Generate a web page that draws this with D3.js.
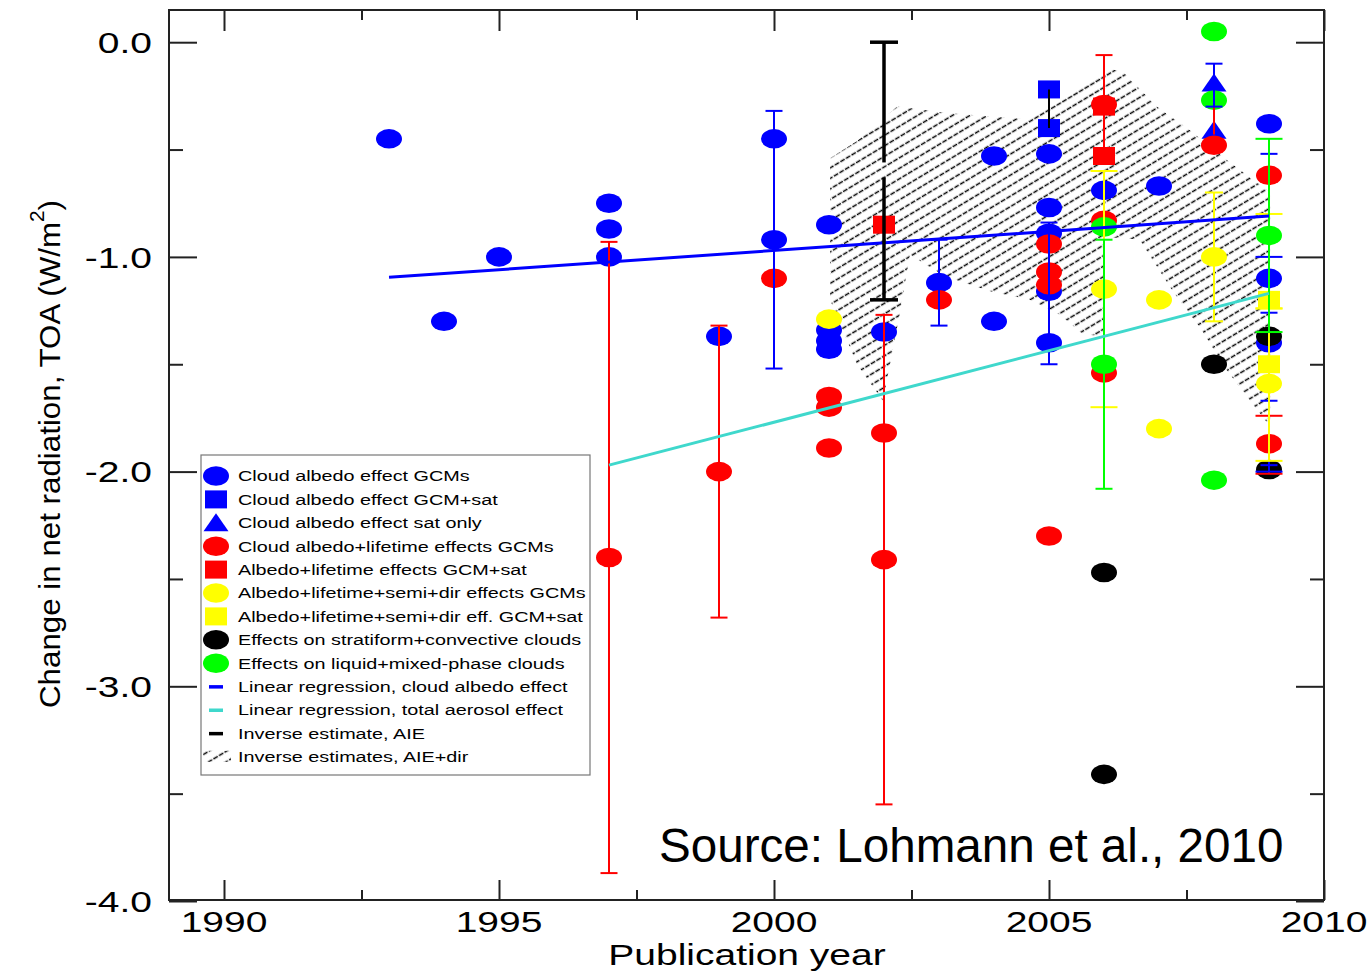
<!DOCTYPE html>
<html><head><meta charset="utf-8">
<script src="https://cdn.jsdelivr.net/npm/d3@7"></script>
<style>
body{margin:0;background:#fff;}
svg{display:block;}
text{font-family:"Liberation Sans",Arial,Helvetica,sans-serif;fill:#000;}
</style>
</head><body>
<svg id="chart" width="1369" height="973"></svg>
<script>
// ---------- data ----------
const xMajorTicks = [1990, 1995, 2000, 2005, 2010];
const xMinorTicks = [1992.5, 1997.5, 2002.5, 2007.5];
const yMajorTicks = [0, -1, -2, -3, -4];
const yMinorTicks = [-0.5, -1.5, -2.5, -3.5];
const yTickLabels = ["0.0", "-1.0", "-2.0", "-3.0", "-4.0"];
const xTickLabels = ["1990", "1995", "2000", "2005", "2010"];

const legendLabels = [
  "Cloud albedo effect GCMs",
  "Cloud albedo effect GCM+sat",
  "Cloud albedo effect sat only",
  "Cloud albedo+lifetime effects GCMs",
  "Albedo+lifetime effects GCM+sat",
  "Albedo+lifetime+semi+dir effects GCMs",
  "Albedo+lifetime+semi+dir eff. GCM+sat",
  "Effects on stratiform+convective clouds",
  "Effects on liquid+mixed-phase clouds",
  "Linear regression, cloud albedo effect",
  "Linear regression, total aerosol effect",
  "Inverse estimate, AIE",
  "Inverse estimates, AIE+dir"
];

// points: [publication year, W/m2]
const cloudAlbedoGCM = [[1993,-0.45],[1994,-1.30],[1995,-1.00],[1997,-0.75],[1997,-0.87],[1997,-1.00],
  [1999,-1.37],[2000,-0.45],[2000,-0.92],[2001,-0.85],[2001,-1.34],[2001,-1.39],[2001,-1.43],[2002,-1.35],
  [2003,-1.12],[2004,-0.53],[2004,-1.30],[2005,-0.52],[2005,-0.77],[2005,-0.89],[2005,-1.16],[2005,-1.40],
  [2006,-0.69],[2007,-0.67],[2009,-0.38],[2009,-1.10],[2009,-1.40]];
const cloudAlbedoGCMsat = [[2005,-0.22],[2005,-0.40]];
const cloudAlbedoSat = [[2008,-0.19],[2008,-0.41]];
const albedoLifetimeGCM = [[1997,-2.40],[1999,-2.00],[2000,-1.10],[2001,-1.65],[2001,-1.70],[2001,-1.89],
  [2002,-1.82],[2002,-2.41],[2003,-1.20],[2005,-0.94],[2005,-1.07],[2005,-1.13],[2005,-2.30],[2006,-0.29],
  [2006,-0.83],[2006,-1.54],[2008,-0.48],[2009,-0.62],[2009,-1.87]];
const albedoLifetimeGCMsat = [[2002,-0.85],[2006,-0.30],[2006,-0.53]];
const semiDirGCM = [[2001,-1.29],[2006,-1.15],[2007,-1.20],[2007,-1.80],[2008,-1.00],[2009,-1.59]];
const semiDirGCMsat = [[2009,-1.20],[2009,-1.50]];
const stratConv = [[2006,-2.47],[2006,-3.41],[2008,-1.50],[2009,-1.37],[2009,-1.99]];
const liquidMixed = [[2006,-0.86],[2006,-1.50],[2008,0.05],[2008,-0.27],[2008,-2.04],[2009,-0.90]];

// error bars: [year, upper, lower]
const redErr = [[1997,-0.93,-3.87],[1999,-1.32,-2.68],[2002,-1.27,-3.55],[2006,-0.06,-0.53]];
const redErrWide = [[2009,-1.74,-2.01]];
const redRange = [[2008,-0.20,-0.43]];
const blueErr = [[2000,-0.32,-1.52],[2003,-0.92,-1.32],[2005,-0.84,-1.50],[2008,-0.10,-0.30],[2009,-0.52,-1.26],[2009,-1.67,-1.97]];
const blueErrWide = [[2009,-1.00,-2.00]];
const yellowErr = [[2008,-0.70,-1.30]];
const yellowErrWide = [[2006,-0.60,-1.70],[2009,-0.80,-1.24],[2009,-1.24,-1.95]];
const greenErr = [[2006,-0.92,-2.08]];
const greenErrWide = [[2009,-0.45,-1.35]];
const blackRange = [[2005,-0.22,-0.40]];
const aieRange = [2002, 0.0, -1.20];
const aieGap = [-0.56, -0.63];

// regression lines
const regCloudAlbedo = [[1993,-1.095],[2009,-0.81]];
const regTotalAerosol = [[1997,-1.97],[2009,-1.17]];

// inverse estimates AIE+dir (hatched region outline)
const inverseAIEdir = [[2001.02,-0.54],[2001.51,-0.46],[2002.24,-0.30],[2003.15,-0.33],[2004.65,-0.36],
  [2005.44,-0.24],[2006.05,-0.12],[2006.35,-0.14],[2006.96,-0.30],[2007.56,-0.41],[2008.24,-0.55],
  [2009.02,-0.70],[2009.02,-1.79],[2008.24,-1.53],[2007.75,-1.33],[2007.25,-1.16],[2006.65,-0.92],
  [2006.24,-0.91],[2006.00,-0.92],[2006.00,-1.37],[2005.62,-1.36],[2005.20,-1.27],[2004.65,-1.20],
  [2003.93,-1.16],[2003.11,-1.09],[2002.47,-0.99],[2002.29,-1.26],[2001.98,-1.67],[2001.51,-1.50],[2001.02,-1.20]];

// ---------- chart ----------
const svg = d3.select("#chart");
const L = 169, R = 1324, T = 10, B = 901;
const x = d3.scaleLinear().domain([1989, 2010]).range([L, R]);
const y = d3.scaleLinear().domain([-4, 0.15]).range([B, T]);

const BLUE = "#0000ff", RED = "#ff0000", YEL = "#ffff00", GRN = "#00ff00", BLK = "#000000", CYAN = "#3fd8cc";

const defs = svg.append("defs");
const pat = defs.append("pattern").attr("id", "hatch").attr("patternUnits", "userSpaceOnUse")
  .attr("width", 26).attr("height", 9).attr("patternTransform", "rotate(-31)");
pat.append("line").attr("x1", 0).attr("y1", 4.5).attr("x2", 26).attr("y2", 4.5)
  .attr("stroke", "#000").attr("stroke-width", 1.3).attr("stroke-dasharray", "5 1.5");

// hatched region
svg.append("path").datum(inverseAIEdir)
  .attr("d", d3.line().x(d => x(d[0])).y(d => y(d[1])).curve(d3.curveLinearClosed))
  .attr("fill", "url(#hatch)").attr("stroke", "none");

// symbols
function drawShape(g, shape, color, cx, cy) {
  if (shape === "circle") {
    g.append("ellipse").attr("cx", cx).attr("cy", cy).attr("rx", 13).attr("ry", 9.8).attr("fill", color);
  } else if (shape === "square") {
    g.append("rect").attr("x", cx - 11).attr("y", cy - 9).attr("width", 22).attr("height", 18).attr("fill", color);
  } else if (shape === "triangle") {
    g.append("path").attr("d", `M${cx - 12.5},${cy + 8.5}L${cx + 12.5},${cy + 8.5}L${cx},${cy - 9.5}Z`).attr("fill", color);
  }
}

const pointSeries = [
  {data: cloudAlbedoGCM, color: BLUE, shape: "circle"},
  {data: cloudAlbedoGCMsat, color: BLUE, shape: "square"},
  {data: cloudAlbedoSat, color: BLUE, shape: "triangle"},
  {data: albedoLifetimeGCM, color: RED, shape: "circle"},
  {data: albedoLifetimeGCMsat, color: RED, shape: "square"},
  {data: semiDirGCM, color: YEL, shape: "circle"},
  {data: semiDirGCMsat, color: YEL, shape: "square"},
  {data: stratConv, color: BLK, shape: "circle"},
  {data: liquidMixed, color: GRN, shape: "circle"}
];
const gPts = svg.append("g");
pointSeries.forEach(s => {
  const g = gPts.append("g");
  s.data.forEach(d => drawShape(g, s.shape, s.color, x(d[0]), y(d[1])));
});

// error bars
const errGroups = [
  {data: redErr, color: RED, cap: 8.5}, {data: redErrWide, color: RED, cap: 13.5}, {data: redRange, color: RED, cap: 0},
  {data: blueErr, color: BLUE, cap: 8.5}, {data: blueErrWide, color: BLUE, cap: 13.5},
  {data: yellowErr, color: YEL, cap: 9}, {data: yellowErrWide, color: YEL, cap: 13.5},
  {data: greenErr, color: GRN, cap: 8.5}, {data: greenErrWide, color: GRN, cap: 13.5},
  {data: blackRange, color: BLK, cap: 0}
];
const gErr = svg.append("g").attr("stroke-width", 2);
errGroups.forEach(eg => {
  eg.data.forEach(d => {
    const cx = x(d[0]);
    gErr.append("line").attr("x1", cx).attr("x2", cx).attr("y1", y(d[1])).attr("y2", y(d[2])).attr("stroke", eg.color);
    if (eg.cap > 0) {
      [d[1], d[2]].forEach(v => gErr.append("line").attr("x1", cx - eg.cap).attr("x2", cx + eg.cap)
        .attr("y1", y(v)).attr("y2", y(v)).attr("stroke", eg.color));
    }
  });
});

// regression lines
const ln = d3.line().x(d => x(d[0])).y(d => y(d[1]));
svg.append("path").datum(regCloudAlbedo).attr("d", ln).attr("stroke", BLUE).attr("stroke-width", 3).attr("fill", "none");
svg.append("path").datum(regTotalAerosol).attr("d", ln).attr("stroke", CYAN).attr("stroke-width", 3).attr("fill", "none");

// inverse estimate AIE bar
{
  const cx = x(aieRange[0]);
  const g = svg.append("g").attr("stroke", BLK).attr("stroke-width", 3.5);
  g.append("line").attr("x1", cx).attr("x2", cx).attr("y1", y(aieRange[1])).attr("y2", y(aieGap[0]));
  g.append("line").attr("x1", cx).attr("x2", cx).attr("y1", y(aieGap[1])).attr("y2", y(aieRange[2]));
  [aieRange[1], aieRange[2]].forEach(v => g.append("line").attr("x1", cx - 14).attr("x2", cx + 14)
    .attr("y1", y(v)).attr("y2", y(v)));
}

// frame and ticks
const axStyle = g => { g.select(".domain").remove(); g.selectAll("line").attr("stroke", "#222").attr("stroke-width", 2); };
svg.append("g").attr("transform", `translate(${L},0)`).call(d3.axisLeft(y).tickValues(yMajorTicks).tickSize(-28).tickFormat("")).call(axStyle);
svg.append("g").attr("transform", `translate(${L},0)`).call(d3.axisLeft(y).tickValues(yMinorTicks).tickSize(-14).tickFormat("")).call(axStyle);
svg.append("g").attr("transform", `translate(${R},0)`).call(d3.axisRight(y).tickValues(yMajorTicks).tickSize(-28).tickFormat("")).call(axStyle);
svg.append("g").attr("transform", `translate(${R},0)`).call(d3.axisRight(y).tickValues(yMinorTicks).tickSize(-14).tickFormat("")).call(axStyle);
svg.append("g").attr("transform", `translate(0,${T})`).call(d3.axisTop(x).tickValues(xMajorTicks).tickSize(-21).tickFormat("")).call(axStyle);
svg.append("g").attr("transform", `translate(0,${T})`).call(d3.axisTop(x).tickValues(xMinorTicks).tickSize(-10).tickFormat("")).call(axStyle);
svg.append("g").attr("transform", `translate(0,${B - 1})`).call(d3.axisBottom(x).tickValues(xMajorTicks).tickSize(-20).tickFormat("")).call(axStyle);
svg.append("g").attr("transform", `translate(0,${B - 1})`).call(d3.axisBottom(x).tickValues(xMinorTicks).tickSize(-10).tickFormat("")).call(axStyle);
svg.append("rect").attr("x", L).attr("y", T).attr("width", R - L).attr("height", B - 1 - T)
  .attr("fill", "none").attr("stroke", "#222").attr("stroke-width", 2);

// tick labels
yMajorTicks.forEach((v, i) => {
  svg.append("text").attr("transform", `translate(152,${y(v)}) scale(1.3,1)`)
    .attr("text-anchor", "end").attr("dy", "0.36em").attr("font-size", 30).text(yTickLabels[i]);
});
xMajorTicks.forEach((v, i) => {
  svg.append("text").attr("transform", `translate(${x(v)},932) scale(1.3,1)`)
    .attr("text-anchor", "middle").attr("font-size", 30).text(xTickLabels[i]);
});
svg.append("text").attr("transform", `translate(747,965) scale(1.3,1)`).attr("text-anchor", "middle")
  .attr("font-size", 30).text("Publication year");

// y title
{
  const t = svg.append("text").attr("transform", "translate(60,454) rotate(-90)").attr("text-anchor", "middle")
    .attr("font-size", 30).attr("textLength", 508).attr("lengthAdjust", "spacingAndGlyphs");
  t.append("tspan").text("Change in net radiation, TOA (W/m");
  t.append("tspan").attr("font-size", 20).attr("dy", -16).text("2");
  t.append("tspan").attr("dy", 16).text(")");
}

// legend
const lg = svg.append("g");
lg.append("rect").attr("x", 201).attr("y", 455).attr("width", 389).attr("height", 320)
  .attr("fill", "#fff").attr("stroke", "#777").attr("stroke-width", 1.2);
const legendSymbols = [
  {shape: "circle", color: BLUE}, {shape: "square", color: BLUE}, {shape: "triangle", color: BLUE},
  {shape: "circle", color: RED}, {shape: "square", color: RED},
  {shape: "circle", color: YEL}, {shape: "square", color: YEL},
  {shape: "circle", color: BLK}, {shape: "circle", color: GRN},
  {shape: "dash", color: BLUE}, {shape: "dash", color: CYAN}, {shape: "dash", color: BLK}, {shape: "hatch"}
];
legendLabels.forEach((lab, i) => {
  const cy = 476 + i * 23.4;
  const s = legendSymbols[i];
  if (s.shape === "dash") {
    lg.append("rect").attr("x", 209).attr("y", cy - 1.5).attr("width", 14).attr("height", 3.5).attr("fill", s.color);
  } else if (s.shape === "hatch") {
    lg.append("rect").attr("x", 203).attr("y", cy - 6).attr("width", 28).attr("height", 11).attr("fill", "url(#hatch)");
  } else {
    drawShape(lg, s.shape, s.color, 216, cy);
  }
  lg.append("text").attr("transform", `translate(238,${cy}) scale(1.32,1)`).attr("dy", "0.36em")
    .attr("font-size", 15).text(lab);
});

// source note
svg.append("text").attr("x", 659).attr("y", 862).attr("font-size", 47.6).text("Source: Lohmann et al., 2010");
</script>
</body></html>
